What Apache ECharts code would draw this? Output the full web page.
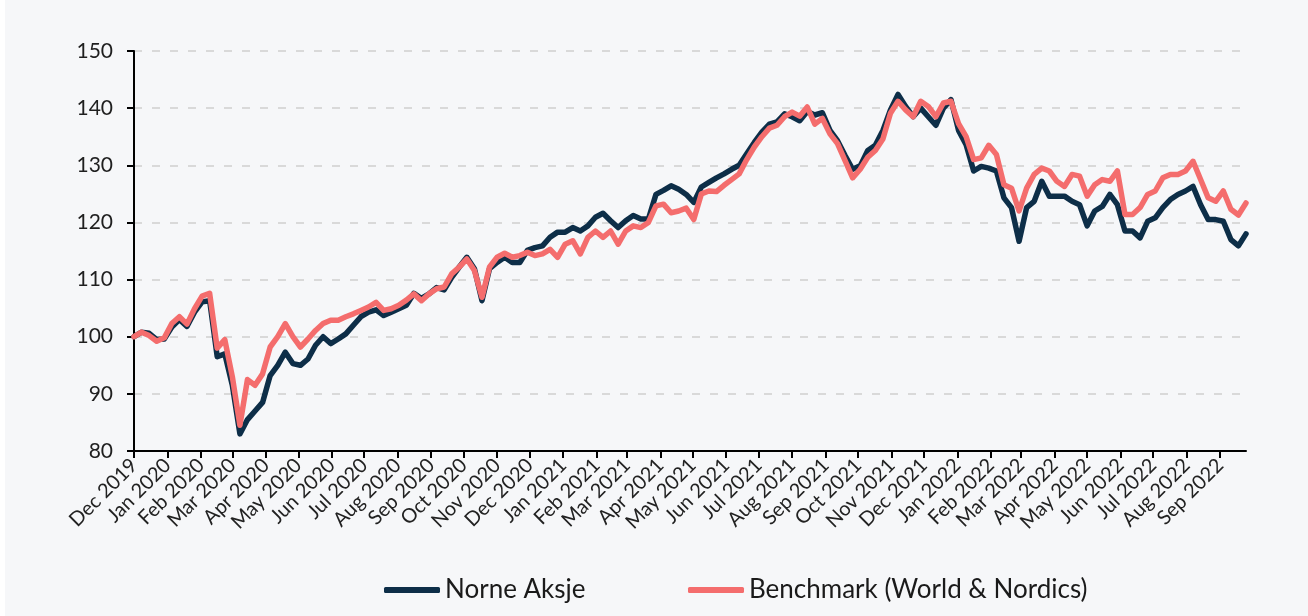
<!DOCTYPE html>
<html><head><meta charset="utf-8">
<script src="https://cdn.jsdelivr.net/npm/echarts@6/dist/echarts.min.js"></script>
<style>html,body{margin:0;padding:0;background:#fff;} #c{position:absolute;left:5px;top:0;width:1303px;height:616px;background:#f6f7f9;}</style>
</head><body><div id="c"></div>
<script>
// Month tick labels (axis ticks at the first day of each month)
const monthLabels = ['Dec 2019','Jan 2020','Feb 2020','Mar 2020','Apr 2020','May 2020','Jun 2020','Jul 2020','Aug 2020','Sep 2020','Oct 2020','Nov 2020','Dec 2020','Jan 2021','Feb 2021','Mar 2021','Apr 2021','May 2021','Jun 2021','Jul 2021','Aug 2021','Sep 2021','Oct 2021','Nov 2021','Dec 2021','Jan 2022','Feb 2022','Mar 2022','Apr 2022','May 2022','Jun 2022','Jul 2022','Aug 2022','Sep 2022'];
const seriesNames = ['Norne Aksje', 'Benchmark (World & Nordics)'];
// Weekly observations, first one on 2019-12-01
const firstDate = '2019-12-01';
const stepDays = 7;
const norne = [100,100.8,100.6,99.5,99.6,101.7,103,101.8,104.3,106.1,106.3,96.5,97,91.5,83,85.5,87,88.5,93.2,95,97.3,95.3,95,96.1,98.5,100,98.8,99.6,100.5,102,103.5,104.3,104.7,103.7,104.3,104.9,105.5,107.6,106.7,107.5,108.6,108.2,110.4,112.2,113.9,111.9,106.3,111.9,113,113.9,113,113,115.1,115.6,115.9,117.4,118.3,118.3,119.1,118.5,119.4,120.9,121.6,120.3,119.1,120.3,121.2,120.6,120.6,124.9,125.6,126.4,125.8,124.9,123.5,126.2,127,127.8,128.5,129.3,130,132,134,135.8,137.2,137.6,139,138.5,137.8,139.4,138.8,139.2,136.1,134.3,131.7,129.3,129.9,132.6,133.5,136.1,139.7,142.4,140.3,138.5,140,138.5,137,140,141.5,136.1,133.6,129,129.8,129.5,129,124.3,122.6,116.7,122.6,123.7,127.2,124.6,124.6,124.6,123.7,123.1,119.4,122,122.8,124.9,123.1,118.5,118.5,117.3,120.2,120.8,122.6,124,124.9,125.5,126.3,123.1,120.5,120.5,120.2,117,115.9,118];
const benchmark = [100,100.8,100.2,99.2,99.8,102.3,103.5,102.2,104.9,107.1,107.6,98,99.5,93,84.5,92.5,91.5,93.5,98.2,100,102.3,100,98.2,99.6,101.1,102.3,102.9,102.9,103.5,104,104.6,105.2,106,104.6,104.9,105.5,106.4,107.5,106.3,107.5,108.4,108.7,111,112.2,113.6,111.6,106.9,112.2,113.9,114.6,113.9,114.2,114.8,114.2,114.5,115.3,113.9,116.2,116.8,114.5,117.4,118.5,117.4,118.5,116.2,118.5,119.4,119.1,120,122.9,123.2,121.7,122,122.5,120.5,125,125.5,125.4,126.5,127.5,128.5,131,133.2,135,136.5,137,138.5,139.3,138.6,140.2,137.2,138.2,135.5,133.8,130.8,127.8,129.3,131.4,132.6,134.6,139.1,141.2,139.7,138.5,141.2,140.3,138.5,140.9,141.2,137.3,135,131,131.3,133.5,131.9,126.6,126,122,126,128.4,129.5,129,127.2,126.3,128.4,128.1,124.6,126.6,127.5,127.2,129,121.4,121.4,122.6,124.9,125.5,127.8,128.4,128.4,129,130.7,127.5,124.3,123.7,125.5,122.3,121.3,123.4];
const yMin = 80, yMax = 150, yStep = 10;

const MON = ['Jan','Feb','Mar','Apr','May','Jun','Jul','Aug','Sep','Oct','Nov','Dec'];
const [fy, fm, fd] = firstDate.split('-').map(Number);
const t0 = Date.UTC(fy, fm - 1, fd);
// x coordinate = days since firstDate
const tickDays = monthLabels.map(l => { const [m, y] = l.split(' '); return Math.round((Date.UTC(+y, MON.indexOf(m), 1) - t0) / 86400000); });
const toPairs = arr => arr.map((v, k) => [k * stepDays, v]);
const FONT = 'Lato';

const chart = echarts.init(document.getElementById('c'), null, {renderer: 'canvas'});
chart.setOption({
  animation: false,
  backgroundColor: '#f6f7f9',
  grid: {left: 129, right: 62, top: 51, bottom: 165},
  legend: [
    {data: [seriesNames[0]], left: 374, top: 572, itemWidth: 56, itemHeight: 6, icon: 'roundRect', itemGap: 0,
     textStyle: {fontFamily: FONT, fontSize: 26, color: '#1a1a1a'}},
    {data: [seriesNames[1]], left: 678, top: 572, itemWidth: 56, itemHeight: 6, icon: 'roundRect', itemGap: 0,
     textStyle: {fontFamily: FONT, fontSize: 26, color: '#1a1a1a'}}
  ],
  xAxis: {
    type: 'value',
    min: 0, max: (norne.length - 1) * stepDays,
    axisLine: {show: true, onZero: false, lineStyle: {color: '#000', width: 2}},
    axisTick: {show: true, length: 7, lineStyle: {color: '#000', width: 2}, customValues: tickDays},
    axisLabel: {customValues: tickDays, rotate: 45, margin: 11, fontFamily: FONT, fontSize: 20, color: '#222',
      formatter: v => monthLabels[tickDays.indexOf(v)] || ''},
    splitLine: {show: false}
  },
  yAxis: {
    type: 'value', min: yMin, max: yMax, interval: yStep,
    axisLine: {show: true, lineStyle: {color: '#000', width: 2}},
    axisTick: {show: true, length: 7, lineStyle: {color: '#000', width: 2}},
    axisLabel: {margin: 21, fontFamily: FONT, fontSize: 21, color: '#1f1f1f'},
    splitLine: {show: true, lineStyle: {color: '#d9d9d9', width: 2, type: [8, 10]}}
  },
  series: [
    {name: seriesNames[0], type: 'line', data: toPairs(norne), showSymbol: false, symbol: 'none',
     lineStyle: {color: '#0d2e48', width: 5.5, join: 'round', cap: 'round'}, itemStyle: {color: '#0d2e48'}},
    {name: seriesNames[1], type: 'line', data: toPairs(benchmark), showSymbol: false, symbol: 'none',
     lineStyle: {color: '#f46d6d', width: 5.5, join: 'round', cap: 'round'}, itemStyle: {color: '#f46d6d'}}
  ]
});
</script></body></html>
